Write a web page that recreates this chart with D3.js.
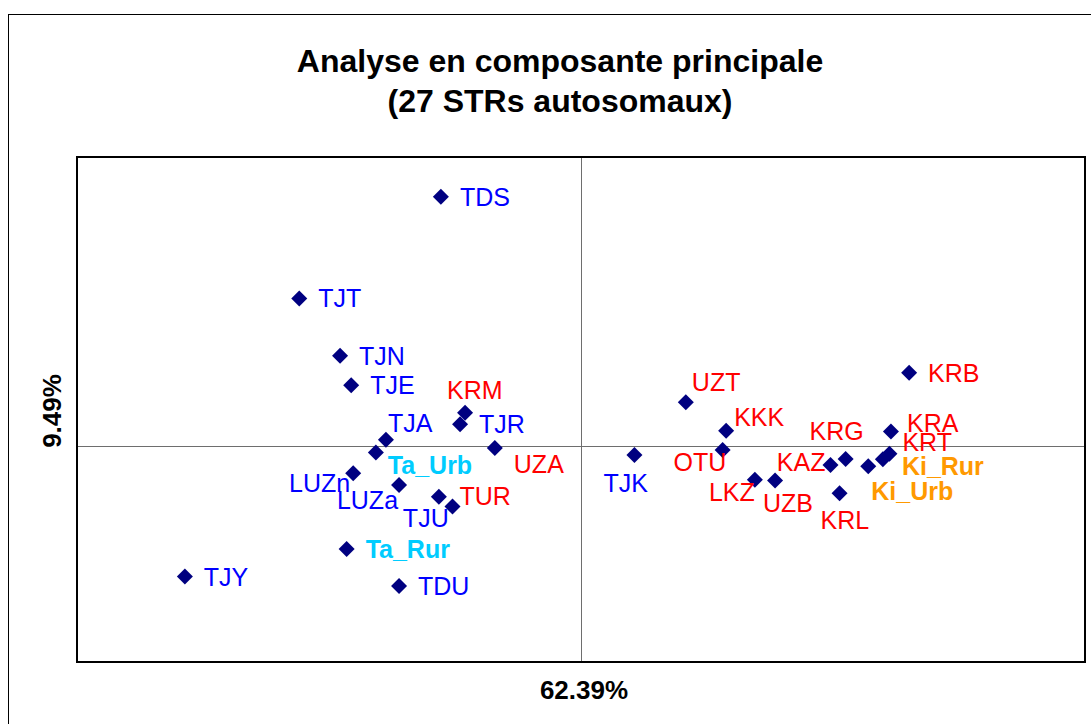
<!DOCTYPE html>
<html>
<head>
<meta charset="utf-8">
<script src="https://cdn.jsdelivr.net/npm/d3@7"></script>
<style>
    body { margin: 0; background: #fff; }
    text { font-family: Arial, "Liberation Sans", sans-serif; }
</style>
</head>
<body>
<div id="chart"></div>
<script>
// populations and their PCA coordinates (axis 1 = 62.39%, axis 2 = 9.49%)
const names = ["TDS", "TJT", "TJN", "TJE", "KRM", "TJR", "TJA", "Ta_Urb", "UZA", "LUZn", "LUZa",
    "TJU", "TUR", "Ta_Rur", "TJY", "TDU", "TJK", "UZT", "KKK", "OTU", "LKZ", "UZB", "KAZ", "KRG",
    "Ki_Urb", "Ki_Rur", "KRT", "KRL", "KRA", "KRB"];
const pc1 = [-0.278, -0.559, -0.478, -0.456, -0.230, -0.240, -0.387, -0.407, -0.171, -0.452, -0.361,
    -0.282, -0.255, -0.465, -0.786, -0.361, 0.106, 0.208, 0.288, 0.281, 0.345, 0.385, 0.495, 0.525,
    0.570, 0.599, 0.612, 0.513, 0.615, 0.651];
const pc2 = [0.690, 0.408, 0.249, 0.167, 0.091, 0.059, 0.016, -0.019, -0.007, -0.077, -0.109,
    -0.142, -0.169, -0.287, -0.363, -0.389, -0.026, 0.120, 0.041, -0.012, -0.095, -0.097, -0.054, -0.037,
    -0.057, -0.038, -0.023, -0.132, 0.039, 0.202];
const groups = ["T", "T", "T", "T", "K", "T", "T", "Ta", "K", "T", "T",
    "T", "K", "Ta", "T", "T", "T", "K", "K", "K", "K", "K", "K", "K",
    "Ki", "Ki", "K", "K", "K", "K"];
const axisLabels = ["62.39%", "9.49%"];
const titleLines = ["Analyse en composante principale", "(27 STRs autosomaux)"];

// where each label sits relative to its marker (px), as placed by hand in the original
const labelPos = {
    KRM: [-18, -23], TJA: [2, -17], "Ta_Urb": [12, 13], UZA: [19, 16], LUZn: [-3, 10, "end"],
    LUZa: [-1, 15, "end"], TJU: [-36, 21], TUR: [7, -11], TJK: [-31, 28], UZT: [6, -20],
    KKK: [8, -14], OTU: [-49, 12], LKZ: [-46, 12], UZB: [-12, 22], KAZ: [-5, -3, "end"],
    KRG: [-36, -28], KRL: [-19, 27], KRA: [16, -9], KRT: [13, -12], "Ki_Rur": [19, 7],
    "Ki_Urb": [3, 25]
};

const data = names.map((n, i) => ({name: n, x: pc1[i], y: pc2[i], group: groups[i]}));

const WIDTH = 1091, HEIGHT = 724;
const plot = {left: 77, top: 157, right: 1085, bottom: 662};

const color = d3.scaleOrdinal()
    .domain(["T", "K", "Ta", "Ki"])
    .range(["#0000FF", "#FF0000", "#00CCFF", "#FF9900"]);

const svg = d3.select("#chart").append("svg")
    .attr("width", WIDTH)
    .attr("height", HEIGHT);

// outer chart frame (runs off the right/bottom edge like the original)
svg.append("rect")
    .attr("x", 8.5).attr("y", 14.5)
    .attr("width", 1120).attr("height", 740)
    .attr("fill", "#fff").attr("stroke", "#000").attr("stroke-width", 1);

const x = d3.scaleLinear().domain([-1, 1]).range([plot.left, plot.right]);
const y = d3.scaleLinear().domain([-0.6, 0.8]).range([plot.bottom, plot.top]);

// title
svg.append("text")
    .attr("x", 560).attr("y", 72)
    .attr("text-anchor", "middle")
    .style("font-size", "32px").style("font-weight", "bold")
    .selectAll("tspan")
    .data(titleLines)
    .enter().append("tspan")
    .attr("x", 560)
    .attr("dy", (d, i) => i ? 40 : 0)
    .text(d => d);

// zero lines
svg.append("line")
    .attr("x1", plot.left).attr("x2", plot.right)
    .attr("y1", Math.round(y(0)) + 0.5).attr("y2", Math.round(y(0)) + 0.5)
    .attr("stroke", "#6e6e6e").attr("stroke-width", 1);
svg.append("line")
    .attr("x1", Math.round(x(0)) + 0.5).attr("x2", Math.round(x(0)) + 0.5)
    .attr("y1", plot.top).attr("y2", plot.bottom)
    .attr("stroke", "#6e6e6e").attr("stroke-width", 1);

// plot frame
svg.append("rect")
    .attr("x", plot.left).attr("y", plot.top)
    .attr("width", plot.right - plot.left).attr("height", plot.bottom - plot.top)
    .attr("fill", "none").attr("stroke", "#000").attr("stroke-width", 2);

// axis titles
svg.append("text")
    .attr("x", 584).attr("y", 699)
    .attr("text-anchor", "middle")
    .style("font-size", "26px").style("font-weight", "bold")
    .text(axisLabels[0]);
svg.append("text")
    .attr("transform", "translate(61,411) rotate(-90)")
    .attr("text-anchor", "middle")
    .style("font-size", "26px").style("font-weight", "bold")
    .text(axisLabels[1]);

// markers
const diamond = "M0,-8L8,0L0,8L-8,0Z";
svg.append("g").selectAll("path")
    .data(data)
    .enter().append("path")
    .attr("d", diamond)
    .attr("transform", d => "translate(" + x(d.x) + "," + y(d.y) + ")")
    .attr("fill", "#000080");

// labels
svg.append("g").selectAll("text")
    .data(data)
    .enter().append("text")
    .attr("x", d => x(d.x) + (labelPos[d.name] ? labelPos[d.name][0] : 19))
    .attr("y", d => y(d.y) + (labelPos[d.name] ? labelPos[d.name][1] : 0) + 9)
    .attr("text-anchor", d => (labelPos[d.name] && labelPos[d.name][2]) || "start")
    .style("font-size", "25px")
    .style("font-weight", d => (d.group === "Ta" || d.group === "Ki") ? "bold" : "normal")
    .attr("fill", d => color(d.group))
    .text(d => d.name);
</script>
</body>
</html>
